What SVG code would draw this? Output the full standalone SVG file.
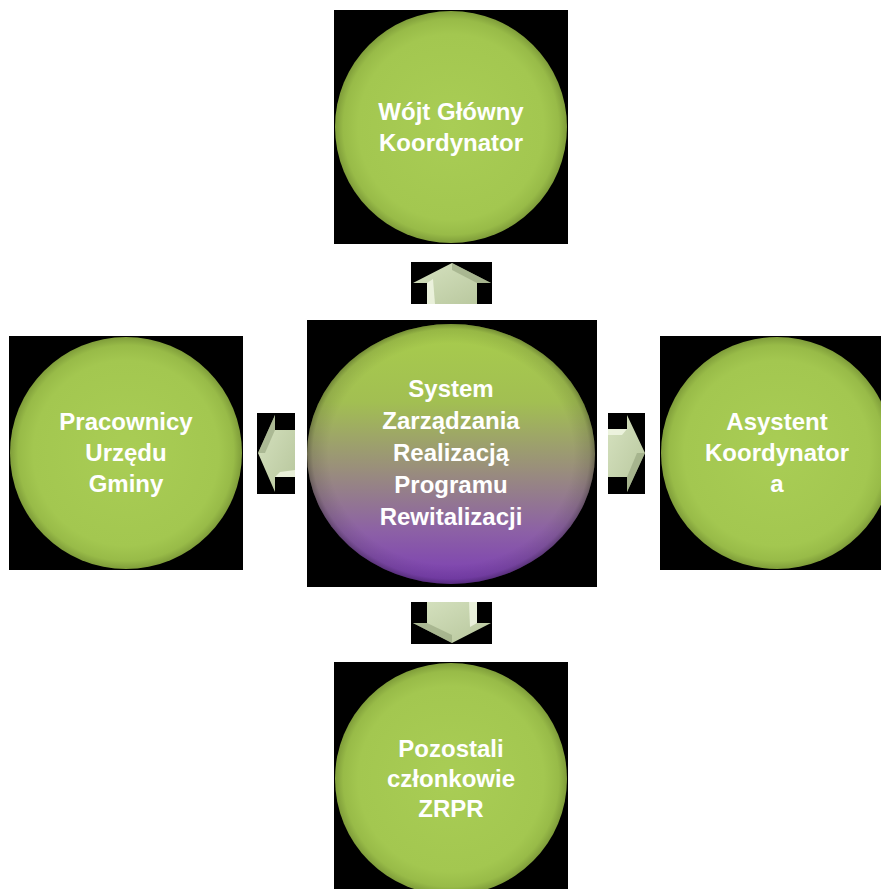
<svg xmlns="http://www.w3.org/2000/svg" width="881" height="889" viewBox="0 0 881 889">
<defs>
<radialGradient id="gGreen" cx="0.5" cy="0.5" r="0.5">
<stop offset="0" stop-color="#a9cd55"/>
<stop offset="0.8" stop-color="#a3c750"/>
<stop offset="0.93" stop-color="#98bb48"/>
<stop offset="1" stop-color="#7f9d3a"/>
</radialGradient>
<linearGradient id="gCenter" x1="0" y1="0" x2="0" y2="1">
<stop offset="0" stop-color="#a8cd4c"/>
<stop offset="0.3" stop-color="#a2bf52"/>
<stop offset="0.55" stop-color="#9a907a"/>
<stop offset="0.8" stop-color="#8c60a6"/>
<stop offset="1" stop-color="#7b3db4"/>
</linearGradient>
<radialGradient id="gRim" cx="0.5" cy="0.5" r="0.5">
<stop offset="0.85" stop-color="#000" stop-opacity="0"/>
<stop offset="0.96" stop-color="#000" stop-opacity="0.1"/>
<stop offset="1" stop-color="#000" stop-opacity="0.3"/>
</radialGradient>
<linearGradient id="gArrow" x1="0" y1="0" x2="1" y2="1">
<stop offset="0" stop-color="#d6e2c0"/>
<stop offset="1" stop-color="#b7c69c"/>
</linearGradient>
</defs>
<style>
.bg{fill:#000}
.lbl{font-family:"Liberation Sans",Arial,sans-serif;font-weight:bold;font-size:24px;fill:#fff;text-anchor:middle}
.arr{fill:url(#gArrow)}
.hi{fill:#f2f7e6;opacity:0.8}
.sh{fill:#8f9e78;opacity:0.55}
</style>
<rect width="881" height="889" fill="#fff"/>

<g id="node-top">
<rect class="bg" x="334" y="10" width="234" height="234"/>
<circle cx="451" cy="127" r="116" fill="url(#gGreen)"/>
<text class="lbl" x="451" y="120">Wójt Główny</text>
<text class="lbl" x="451" y="151">Koordynator</text>
</g>

<g id="node-center">
<rect class="bg" x="307" y="320" width="290" height="267"/>
<ellipse cx="451" cy="454" rx="144" ry="130" fill="url(#gCenter)"/>
<ellipse cx="451" cy="454" rx="144" ry="130" fill="url(#gRim)"/>
<text class="lbl" x="451" y="397">System</text>
<text class="lbl" x="451" y="429">Zarządzania</text>
<text class="lbl" x="451" y="461">Realizacją</text>
<text class="lbl" x="451" y="493">Programu</text>
<text class="lbl" x="451" y="525">Rewitalizacji</text>
</g>

<g id="node-left">
<rect class="bg" x="9" y="336" width="234" height="234"/>
<circle cx="126" cy="453" r="116" fill="url(#gGreen)"/>
<text class="lbl" x="126" y="430">Pracownicy</text>
<text class="lbl" x="126" y="461">Urzędu</text>
<text class="lbl" x="126" y="492">Gminy</text>
</g>

<g id="node-right">
<rect class="bg" x="660" y="336" width="234" height="234"/>
<circle cx="777" cy="453" r="116" fill="url(#gGreen)"/>
<text class="lbl" x="777" y="430">Asystent</text>
<text class="lbl" x="777" y="461">Koordynator</text>
<text class="lbl" x="777" y="492">a</text>
</g>

<g id="node-bottom">
<rect class="bg" x="334" y="662" width="234" height="234"/>
<circle cx="451" cy="779" r="116" fill="url(#gGreen)"/>
<text class="lbl" x="451" y="757">Pozostali</text>
<text class="lbl" x="451" y="787">członkowie</text>
<text class="lbl" x="451" y="817">ZRPR</text>
</g>

<g id="connectors">
<!-- up -->
<rect class="bg" x="411" y="262" width="81" height="42"/>
<polygon class="arr" points="452,263 491,283 477,283 477,304 427,304 427,283 413,283"/>
<polygon class="hi" points="427,283 433,279 435,304 427,304"/>
<polygon class="sh" points="452,263 491,283 477,283 452,270"/>
<!-- down -->
<rect class="bg" x="411" y="602" width="81" height="42"/>
<polygon class="arr" points="427,602 477,602 477,623 491,623 452,643 413,623 427,623"/>
<polygon class="hi" points="477,602 477,623 470,627 469,602"/>
<polygon class="sh" points="413,623 452,643 452,635 427,623"/>
<!-- left -->
<rect class="bg" x="257" y="413" width="38" height="81"/>
<polygon class="arr" points="258,453 275,415 275,430 295,430 295,477 275,477 275,492"/>
<polygon class="hi" points="275,477 295,477 295,470 280,472"/>
<polygon class="sh" points="258,453 275,415 275,430 265,453"/>
<!-- right -->
<rect class="bg" x="608" y="413" width="37" height="81"/>
<polygon class="arr" points="608,429 627,429 627,415 645,453 627,492 627,477 608,477"/>
<polygon class="hi" points="608,429 627,429 622,435 608,435"/>
<polygon class="sh" points="627,492 645,453 637,453 627,477"/>
</g>
</svg>
